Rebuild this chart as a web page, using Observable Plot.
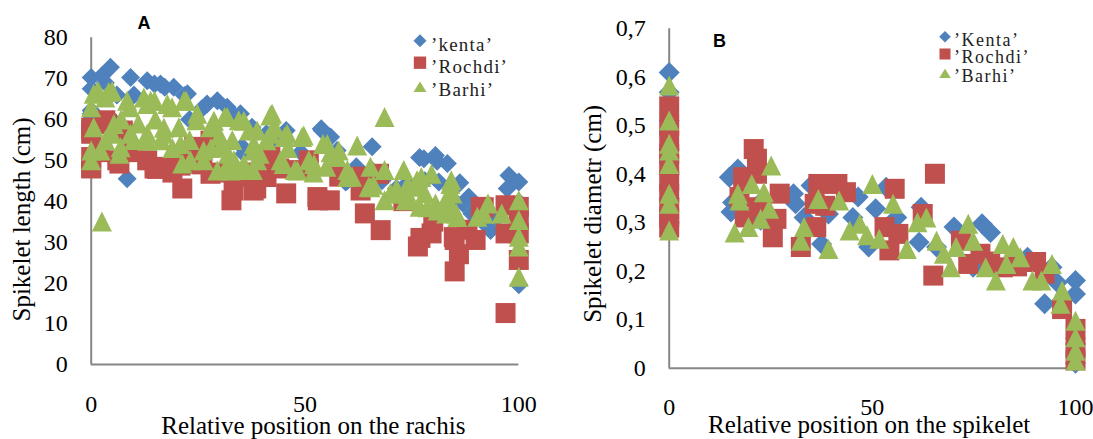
<!DOCTYPE html>
<html>
<head>
<meta charset="utf-8">
<script src="https://cdn.jsdelivr.net/npm/d3@7"></script>
<script src="https://cdn.jsdelivr.net/npm/@observablehq/plot@0.6"></script>
<style>
  html, body { margin: 0; padding: 0; background: #fff; }
  #wrap { position: relative; width: 1093px; height: 439px; overflow: hidden; background: #fff; }
  #wrap svg.plotA, #wrap svg.plotB { position: absolute; top: 0; }
  .tag { position: absolute; font-family: "Liberation Sans", Arial, sans-serif; font-weight: bold; font-size: 18px; color: #000; line-height: 1; }
  #overlay { position: absolute; left: 0; top: 0; pointer-events: none; }
</style>
</head>
<body>
<div id="wrap"></div>
<script>
// ---------- Panel A : spikelet length (cm) vs relative position on the rachis ----------
// [relative position, length]
const kentaA = [[0,70.3],[0,67.5],[0,62.2],[0,60.2],[0,61.4],[2.5,70.7],[3.3,69],[4.5,72.8],[4.9,60],[6,66],[8.4,45.5],[9.2,70.3],[10,66],[13.1,69.5],[14.8,68.7],[16.2,68.7],[17.2,67.9],[19.3,67.9],[21.8,65.9],[22.5,66.3],[23,60],[25.9,62.6],[27.1,63.8],[29.5,64.6],[31.8,63],[33.3,61],[34.9,61.4],[35.7,51.6],[35.3,53.3],[37.6,58.1],[41,56.5],[43,55],[45.6,57.3],[49,52],[51,50],[54,57.3],[53.8,57.7],[56,55.7],[57.5,52.4],[59.5,44.7],[59.9,45],[62,48.4],[65.7,53.3],[65.7,47.5],[68,45],[71.4,43.1],[73.9,44.3],[76.8,50.7],[77.8,50.4],[78,45],[80.5,51.2],[80.9,49.8],[81.3,44.7],[83.3,49.2],[85,40],[86.2,44.5],[87,39.4],[88.3,41],[89,37],[90,36],[92.8,33.7],[93.4,32.8],[95,36],[97.3,43.1],[97.7,46.3],[100,44.7],[100,39.8],[100,19.5]];

const rochdiA = [[0,48],[0,48.3],[0,50.8],[0,56.5],[0,57.3],[0,58],[2,52],[3.3,59.8],[3.7,58.9],[6.1,50],[6.6,49.2],[7.4,57.3],[10,52],[13.1,50],[14.8,48],[15.4,47.9],[17.2,48.4],[19,47],[20.9,48.7],[21.3,43.1],[23,50.8],[24.1,53.3],[24.8,49.1],[26,49],[27.9,46.7],[27.9,54.8],[30,47],[32.8,40.2],[33.3,42.6],[34.5,45.9],[36,47],[38,42.6],[38.6,43.1],[41,45.9],[41.9,50.8],[44,48],[45.6,41.9],[48.4,47.6],[50.9,50],[52.9,41],[53,40.2],[55.8,40.2],[58,46],[63,46],[63,42.6],[64,37],[67.3,46.7],[67.7,32.9],[73,40],[76.4,28.9],[77,31],[79.6,32.1],[80,35],[84.8,31.2],[85,22.8],[85,30.5],[86,27],[88,33],[89.9,30.5],[91.1,38.6],[91.8,38.5],[96.9,39],[96.9,12.6],[96.9,32.1],[100,25.6],[100,32.1],[100,38.6],[100,35.4]];

const barhiA = [[2.5,35],[0,63],[0,52.4],[0,50],[0.6,66.3],[0.6,58.1],[1.6,67],[2.2,52.4],[3.3,65.4],[4.1,66.7],[4.9,67],[3.3,54.9],[4.9,56.5],[5.3,58.9],[6.6,51.6],[6.9,53.2],[7,60],[8.4,64.6],[9,63],[9.2,56.5],[10,55],[11,59],[12.3,65.4],[13.1,63.8],[13.1,54.8],[13.9,64.6],[14.8,64.6],[13.1,56.5],[15,60],[16.4,54.9],[17,56.5],[17,58],[17.8,63.8],[18.9,63],[19,53],[20.5,58.1],[20.9,54],[21.7,64.6],[22.2,64.6],[21.3,49.2],[23,55],[23.2,50],[24.6,59.8],[24.8,61.4],[26.3,50],[26.3,52.4],[27.9,58.1],[28,53],[28.7,59.7],[29.5,47.5],[30,56],[30.2,53.2],[31.2,60.6],[31.8,60.6],[32,51.6],[32.6,47.5],[33,55],[33.4,50],[34.5,59.8],[35.3,47.6],[35.7,59.7],[35.7,49.1],[32,49.2],[36.9,57.3],[37.8,47.6],[38,54],[38,52.4],[38.8,57.3],[38.8,50],[41.9,61],[42.3,61.4],[41,54.9],[41.9,56.5],[39.4,51.6],[43,58],[44.3,50],[45,49.1],[45.2,55.7],[45.8,56.5],[46,53],[47.6,47.6],[48.2,47.5],[49.3,55.7],[49.7,56.1],[50.9,50],[52,47],[52.1,49.1],[54.2,54],[55.2,54],[55,48.4],[56,52],[57.5,50.8],[57.9,52.4],[59.9,47.6],[59.9,45.9],[61,46],[62.2,53.6],[64.9,43.5],[65.3,48.4],[65.3,43.4],[66,44],[68.6,60.6],[68.6,47.6],[68.6,40.2],[70,42],[71.6,41.8],[73.1,47.6],[71.4,43.1],[73.5,40.2],[74,44],[74.7,40.2],[75.5,43.5],[76.2,45.1],[76.8,38.6],[77.2,45.9],[78,42],[78.6,38.5],[79.6,46.7],[80.5,39.4],[81,37.7],[82.9,40.2],[83,37],[84,44.2],[84,39.3],[84.2,45.1],[84.5,41.9],[85.4,37],[85.6,36.1],[90.3,36.2],[91.8,36.9],[92.8,39.4],[96,37],[100,40.2],[100,35.4],[100,31.3],[100,28.9],[100,21.5]];

// ---------- Panel B : spikelet diameter (cm) vs relative position on the spikelet ----------
const kentaB = [[0,0.61],[0,0.569],[0,0.511],[0,0.45],[0,0.40],[0,0.35],[0,0.30],[14.8,0.394],[16.9,0.411],[15.2,0.322],[15.6,0.342],[22.9,0.346],[22.5,0.305],[30.6,0.36],[31.1,0.339],[33.2,0.311],[34.9,0.377],[37.5,0.256],[39.2,0.318],[46.5,0.353],[45.2,0.311],[49.1,0.25],[50.8,0.329],[53.4,0.373],[56,0.311],[62,0.332],[61.5,0.26],[65.8,0.25],[70.1,0.291],[74.8,0.208],[77,0.298],[79.1,0.28],[85.6,0.215],[88.2,0.229],[94.2,0.208],[95.5,0.177],[92.4,0.133],[100,0.181],[100,0.153],[100,0.05],[100,0.01]];

const rochdiB = [[0,0.54],[0,0.50],[0,0.47],[0,0.442],[0,0.42],[0,0.387],[0,0.36],[0,0.33],[0,0.311],[0,0.29],[20.8,0.452],[21.6,0.432],[18.2,0.394],[21.6,0.401],[18.6,0.311],[17.3,0.353],[22.1,0.332],[27.2,0.36],[26.4,0.308],[25.5,0.27],[32.4,0.25],[36.7,0.38],[35.8,0.339],[36.2,0.291],[41.4,0.38],[43.5,0.363],[38.4,0.335],[55.5,0.37],[53,0.291],[54.2,0.243],[56.4,0.277],[62.4,0.318],[65.4,0.401],[65,0.191],[71.8,0.263],[73.6,0.215],[76.6,0.236],[79,0.22],[82.1,0.208],[85.6,0.21],[90.3,0.219],[92.4,0.195],[96.7,0.122],[100,0.081],[100,0.043],[100,0.016]];

const barhiB = [[0,0.583],[0,0.511],[0,0.463],[0,0.449],[0,0.421],[0,0.36],[0,0.339],[0,0.284],[16.1,0.28],[16.9,0.36],[17.3,0.346],[19.5,0.291],[20.3,0.38],[22.5,0.308],[23.3,0.363],[24.6,0.329],[25.1,0.418],[32.4,0.263],[33.2,0.291],[36.7,0.349],[39.2,0.246],[41.8,0.346],[44.4,0.284],[46.9,0.298],[50,0.38],[48.7,0.274],[51.7,0.267],[55.1,0.339],[58.5,0.246],[61.1,0.301],[63.3,0.311],[65.8,0.263],[67.6,0.236],[69.3,0.208],[70.6,0.25],[73.6,0.298],[74.8,0.263],[77.9,0.208],[80.4,0.181],[82.1,0.256],[83,0.215],[84.7,0.25],[86.4,0.229],[89.4,0.181],[91.6,0.181],[94.2,0.215],[96.7,0.16],[96.3,0.133],[100,0.098],[100,0.064],[100,0.036],[100,0.016]];

// ---------- ticks, labels, series ----------
const xTicks = [0, 50, 100];
const yTicksA = [0, 10, 20, 30, 40, 50, 60, 70, 80];
const yTicksB = [0, 0.1, 0.2, 0.3, 0.4, 0.5, 0.6, 0.7];
const yTickLabelsB = ["0", "0,1", "0,2", "0,3", "0,4", "0,5", "0,6", "0,7"];
const seriesA = ["\u2019kenta\u2019", "\u2019Rochdi\u2019", "\u2019Barhi\u2019"];
const seriesB = ["\u2019Kenta\u2019", "\u2019Rochdi\u2019", "\u2019Barhi\u2019"];
const colors = ["#4F81BD", "#C0504D", "#9BBB59"];
const shapes = ["diamond", "square", "triangle"];
const xTitleA = "Relative position on the rachis";
const yTitleA = "Spikelet length (cm)";
const xTitleB = "Relative position on the spikelet";
const yTitleB = "Spikelet diametr (cm)";

// ---------- helpers ----------
function rows(pairs) { return pairs.map(([x, y]) => ({x, y})); }
function sym(kind) {
  return {
    draw(ctx, size) {
      const r = Math.sqrt(size / Math.PI);
      if (kind === "diamond") {
        ctx.moveTo(0, -r); ctx.lineTo(r, 0); ctx.lineTo(0, r); ctx.lineTo(-r, 0); ctx.closePath();
      } else if (kind === "square") {
        ctx.rect(-r, -r, 2 * r, 2 * r);
      } else {
        ctx.moveTo(0, -r); ctx.lineTo(r, r); ctx.lineTo(-r, r); ctx.closePath();
      }
    }
  };
}
const FONT = "'Liberation Serif', 'Times New Roman', serif";
const axisGray = "#868686";

function panel(cfg) {
  const svg = Plot.plot({
    width: cfg.width, height: 439,
    marginLeft: cfg.ml, marginRight: cfg.mr, marginTop: cfg.mt, marginBottom: cfg.mb,
    x: {domain: [0, 100]},
    y: {domain: cfg.ydomain},
    style: {fontFamily: FONT, fontSize: "24px", color: "#000", background: "transparent", overflow: "visible"},
    marks: [
      Plot.axisX({ticks: xTicks, tickSize: 0, tickPadding: 30, label: null, fontSize: 24, tickFormat: d => String(d)}),
      Plot.axisY({ticks: cfg.yticks, tickSize: 0, tickPadding: 23.5, label: null, fontSize: 24, tickFormat: cfg.yfmt}),
      Plot.ruleX([0], {stroke: axisGray, strokeWidth: 2}),
      Plot.ruleY([0], {stroke: axisGray, strokeWidth: 2}),
      ...cfg.series.map((s, i) => Plot.dot(s, {x: "x", y: "y", r: cfg.r[i], symbol: sym(shapes[i]), fill: colors[i], stroke: "none"})),
      Plot.text([cfg.xtitle], {text: d => d, frameAnchor: "bottom", textAnchor: "middle", lineAnchor: "middle", dx: cfg.xtdx, dy: cfg.xtdy, fontSize: 25, fill: "#000"}),
      Plot.text([cfg.ytitle], {text: d => d, frameAnchor: "left", textAnchor: "middle", lineAnchor: "middle", rotate: -90, dx: cfg.ytdx, dy: cfg.ytdy, fontSize: 25, fill: "#000"})
    ]
  });
  svg.classList.add(cfg.cls);
  svg.style.left = cfg.left + "px";
  return svg;
}

const wrap = document.getElementById("wrap");

wrap.appendChild(panel({
  cls: "plotA", left: 0, width: 550, ml: 90.7, mr: 31.7, mt: 37.3, mb: 75,
  ydomain: [0, 80], yticks: yTicksA, yfmt: d => String(d),
  series: [rows(kentaA), rows(rochdiA), rows(barhiA)],
  r: [9.5, 10, 10],
  xtitle: xTitleA, xtdx: 8.3, xtdy: 61.5,
  ytitle: yTitleA, ytdx: -69.7, ytdy: 18.3
}));

wrap.appendChild(panel({
  cls: "plotB", left: 550, width: 543, ml: 118.7, mr: 18, mt: 28.3, mb: 71.3,
  ydomain: [0, 0.7], yticks: yTicksB, yfmt: d => yTickLabelsB[yTicksB.indexOf(d)] ?? String(d),
  series: [rows(kentaB), rows(rochdiB), rows(barhiB)],
  r: [10.5, 10, 10],
  xtitle: xTitleB, xtdx: -3.2, xtdy: 57,
  ytitle: yTitleB, ytdx: -76, ytdy: 15.3
}));

// ---------- panel tags ----------
const tagA = document.createElement("div");
tagA.className = "tag"; tagA.textContent = "A";
tagA.style.left = "137.5px"; tagA.style.top = "14px";
wrap.appendChild(tagA);
const tagB = document.createElement("div");
tagB.className = "tag"; tagB.textContent = "B";
tagB.style.left = "713px"; tagB.style.top = "32px";
wrap.appendChild(tagB);

// ---------- legends ----------
const ov = d3.select(wrap).append("svg").attr("id", "overlay").attr("width", 1093).attr("height", 439);
function legend(names, mx, my, tx, ty, size, fs, ls) {
  const g = ov.append("g");
  names.forEach((name, i) => {
    const p = d3.path();
    const r = size;
    if (shapes[i] === "diamond") { p.moveTo(mx, my[i] - r); p.lineTo(mx + r, my[i]); p.lineTo(mx, my[i] + r); p.lineTo(mx - r, my[i]); p.closePath(); }
    else if (shapes[i] === "square") { p.rect(mx - r * 0.95, my[i] - r * 0.95, r * 1.9, r * 1.9); }
    else { p.moveTo(mx, my[i] - r * 0.8); p.lineTo(mx + r, my[i] + r * 0.8); p.lineTo(mx - r, my[i] + r * 0.8); p.closePath(); }
    g.append("path").attr("d", p.toString()).attr("fill", colors[i]);
    g.append("text").attr("x", tx).attr("y", ty[i]).text(name)
      .attr("font-family", FONT).attr("font-size", fs).attr("letter-spacing", ls).attr("fill", "#222");
  });
}
legend(seriesA, 420, [40.7, 62.7, 86.7], 431, [50.7, 73.3, 96], 6.5, 19, 1.2);
legend(seriesB, 945, [36.7, 54, 73.3], 954, [46, 63.3, 82.3], 5.8, 18, 1.5);
</script>
</body>
</html>
